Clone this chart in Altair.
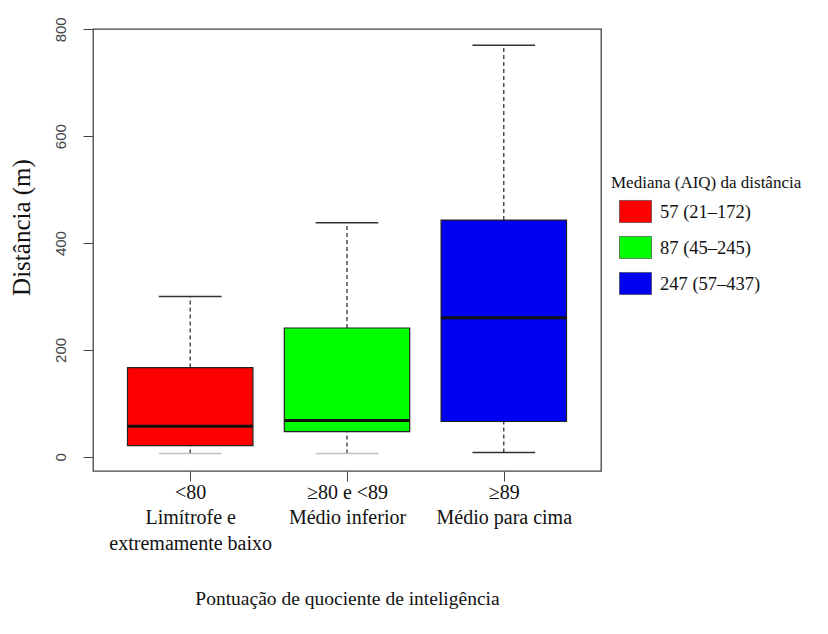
import altair as alt
import pandas as pd

# ---- data ----
groups = ["<80", "≥80 e <89", "≥89"]
group_line2 = ["Limítrofe e", "Médio inferior", "Médio para cima"]
group_line3 = ["extremamente baixo", "", ""]
positions = [1, 2, 3]
low = [6, 6, 8]
q1 = [21, 47, 66]
median = [57, 68, 260]
q3 = [167, 241, 443]
high = [300, 438, 770]
legend_labels = ["57 (21–172)", "87 (45–245)", "247 (57–437)"]
colors = ["#FF0000", "#00FF00", "#0000F0"]
y_ticks = [0, 200, 400, 600, 800]

df = pd.DataFrame({
    "group": groups, "pos": positions, "low": low, "q1": q1,
    "median": median, "q3": q3, "high": high, "legend": legend_labels,
})

SERIF = "Liberation Serif"
SANS = "Liberation Sans"

def lab(i):
    lines = [groups[i], group_line2[i]] + ([group_line3[i]] if group_line3[i] else [])
    return "[" + ",".join("'" + s + "'" for s in lines) + "]"

label_expr = (f"datum.value == 1 ? {lab(0)} : datum.value == 2 ? {lab(1)} : {lab(2)}")

xscale = alt.Scale(domain=[0.38, 3.62], nice=False, zero=False)
yscale = alt.Scale(domain=[-26.6, 800.6], nice=False, zero=False)

base = alt.Chart(df).transform_calculate(
    bx1="datum.pos - 0.4", bx2="datum.pos + 0.4",
    cx1="datum.pos - 0.2", cx2="datum.pos + 0.2",
)

x_axis = alt.Axis(
    values=positions, labelExpr=label_expr, title="Pontuação de quociente de inteligência",
    grid=False, domain=False, tickSize=10, tickColor="#444", labelPadding=1,
    labelFont=SERIF, labelFontSize=20, labelColor="#111", labelLineHeight=25.5,
    labelFlush=False, labelAngle=0,
    titleFont=SERIF, titleFontSize=19.5, titleFontWeight="normal", titleColor="#111",
    titlePadding=36,
)
y_axis = alt.Axis(
    values=y_ticks, title="Distância (m)", grid=False, domain=False,
    tickSize=10, tickColor="#444", labelAngle=270, labelFlush=False,
    labelFont=SANS, labelFontSize=15, labelColor="#444", labelPadding=15,
    titleFont=SERIF, titleFontSize=25, titleFontWeight="normal", titleColor="#111",
    titlePadding=19, titleY=198,
)

def X(f):
    return alt.X(f, scale=xscale, axis=x_axis)

def Y(f):
    return alt.Y(f, scale=yscale, axis=y_axis)

whisk_up = base.mark_rule(strokeDash=[4, 3], color="#222", strokeWidth=1.2).encode(
    x=X("pos:Q"), y=Y("q3:Q"), y2="high:Q",
)
whisk_dn = base.mark_rule(strokeDash=[4, 3], color="#222", strokeWidth=1.2).encode(
    x=X("pos:Q"), y=Y("low:Q"), y2="q1:Q",
)
cap_up = base.mark_rule(color="#333", strokeWidth=1.5).encode(
    x=X("cx1:Q"), x2="cx2:Q", y=Y("high:Q"),
)
cap_dn = base.mark_rule(strokeWidth=1.5).encode(
    x=X("cx1:Q"), x2="cx2:Q", y=Y("low:Q"),
    color=alt.condition("datum.pos < 3", alt.value("#c0c0c0"), alt.value("#333")),
)
boxes = base.mark_rect(stroke="#222", strokeWidth=1.2).encode(
    x=X("bx1:Q"), x2="bx2:Q", y=Y("q1:Q"), y2="q3:Q",
    fill=alt.Fill("legend:N", scale=alt.Scale(domain=legend_labels, range=colors),
                  legend=alt.Legend(
                      title="Mediana (AIQ) da distância", orient="none",
                      legendX=518, legendY=146, titleLimit=400, labelLimit=300,
                      titleFont=SERIF, titleFontSize=17, titleFontWeight="normal",
                      titleColor="#111", titlePadding=3,
                      labelFont=SERIF, labelFontSize=18.5, labelColor="#111",
                      labelOffset=16, rowPadding=7,
                      symbolType="M-0.5,-0.69H1.5V0.69H-0.5Z", symbolSize=1024,
                      symbolStrokeColor="#333", symbolStrokeWidth=0.6,
                      symbolOpacity=1,
                  )),
)
med = base.mark_rule(color="#111", strokeWidth=3).encode(
    x=X("bx1:Q"), x2="bx2:Q", y=Y("median:Q"),
)

chart = alt.layer(whisk_up, whisk_dn, cap_up, cap_dn, boxes, med).properties(
    width=508, height=442, background="white",
    padding={"left": 0, "top": 8, "right": 5, "bottom": 5},
).configure_view(stroke="#444", strokeWidth=1.3
).configure_axisX(labelFont=SERIF).configure_axisY(labelFont=SANS)

chart.save("out.html", embed_options={"renderer": "svg", "actions": False})
